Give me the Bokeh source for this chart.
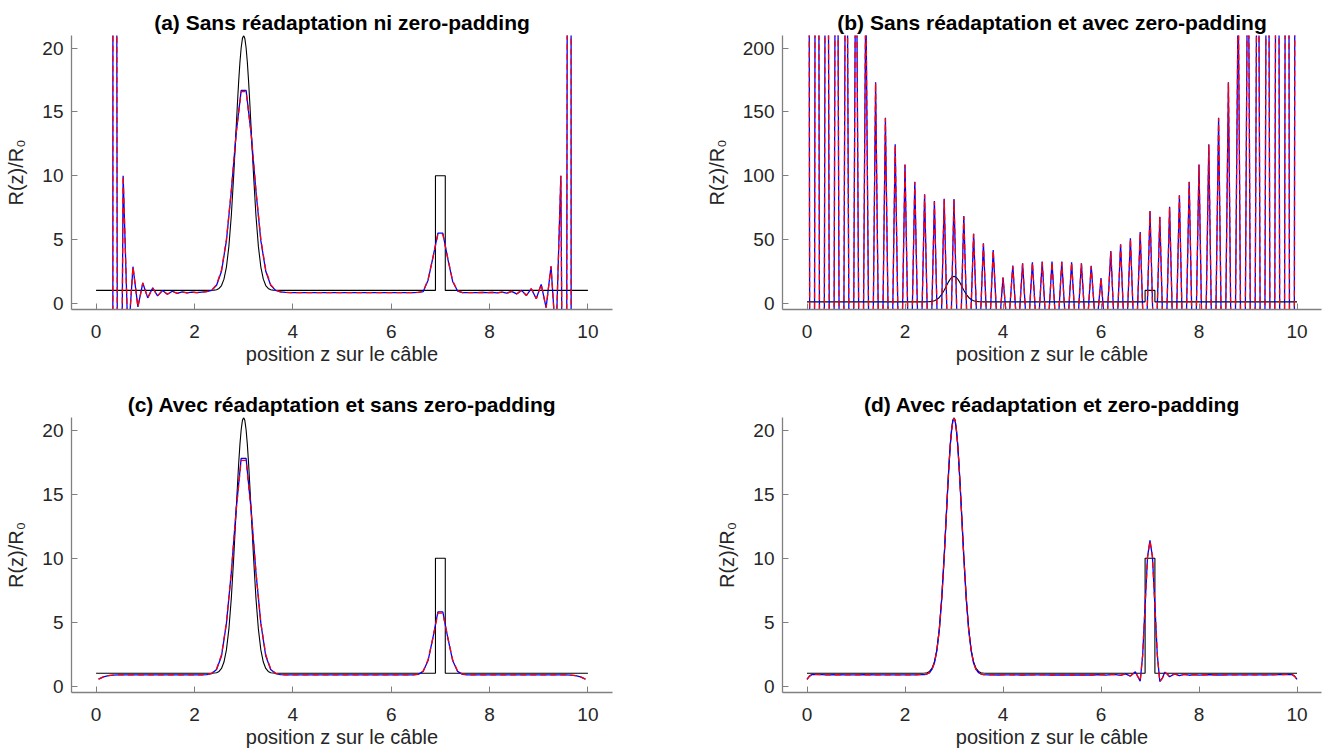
import numpy as np
from bokeh.plotting import figure
from bokeh.layouts import column, row
from bokeh.models import Range1d, FixedTicker
from bokeh.embed import file_html
from bokeh.resources import INLINE

# ---------------- data ----------------
titles = ["(a) Sans réadaptation ni zero-padding",
          "(b) Sans réadaptation et avec zero-padding",
          "(c) Avec réadaptation et sans zero-padding",
          "(d) Avec réadaptation et zero-padding"]
x_label = "position z sur le câble"
y_label = "R(z)/R\u2080"
x_ticks = [0, 2, 4, 6, 8, 10]
y_ticks_small = [0, 5, 10, 15, 20]
y_ticks_big = [0, 50, 100, 150, 200]

# true profile (black)
z_true = [0.0, 2.2, 2.3, 2.35, 2.4, 2.45, 2.5, 2.55, 2.6, 2.65, 2.7, 2.75, 2.8, 2.85, 2.875, 2.9,
          2.925, 2.95, 2.975, 3.0, 3.025, 3.05, 3.075, 3.1, 3.125, 3.15, 3.2, 3.25, 3.3, 3.35, 3.4,
          3.45, 3.5, 3.55, 3.6, 3.65, 3.7, 3.8, 6.9, 6.9, 7.1, 7.1, 10.0]
r_true = [1.0, 1.0, 1.0, 1.01, 1.02, 1.05, 1.15, 1.38, 1.88, 2.83, 4.45, 6.90, 10.16, 13.89, 15.74, 17.46,
          18.92, 20.04, 20.76, 21.0, 20.76, 20.04, 18.92, 17.46, 15.74, 13.89, 10.16, 6.90, 4.45, 2.83, 1.88,
          1.38, 1.15, 1.05, 1.02, 1.01, 1.0, 1.0, 1.0, 10.0, 10.0, 1.0, 1.0]

# (a) samples every 0.1 from 0.25 to 9.75
z_a = list(np.round(np.arange(0.25, 9.76, 0.1), 2))
blue_a = [-2000, 200, -50, 10.0, -3.0, 2.86, -0.30, 1.58, 0.41, 1.19,
          0.57, 0.99, 0.70, 0.93, 0.76, 0.88, 0.80, 0.86, 0.82, 0.86,
          0.90, 1.00, 1.40, 2.50, 4.90, 8.80, 13.40, 16.70, 16.70, 13.40,
          8.80, 4.90, 2.50, 1.40, 1.00, 0.88, 0.84, 0.83, 0.83, 0.82,
          0.83, 0.83, 0.82, 0.83, 0.82, 0.83, 0.83, 0.82, 0.83, 0.83,
          0.82, 0.83, 0.83, 0.82, 0.83, 0.82, 0.83, 0.83, 0.82, 0.83,
          0.83, 0.82, 0.83, 0.84, 0.90, 1.80, 3.60, 5.50, 5.50, 3.50,
          1.70, 0.95, 0.82, 0.82, 0.83, 0.82, 0.84, 0.82, 0.85, 0.80,
          0.87, 0.78, 0.92, 0.72, 1.00, 0.60, 1.13, 0.34, 1.47, -0.36,
          2.89, -3.0, 10.0, -50, 200, -2000]
red_a = [-2000, 200, -50, 10.0, -3.0, 2.86, -0.30, 1.58, 0.41, 1.19,
         0.57, 0.99, 0.70, 0.93, 0.76, 0.88, 0.80, 0.86, 0.82, 0.86,
         0.90, 1.02, 1.45, 2.60, 5.00, 8.90, 13.40, 16.60, 16.60, 13.40,
         8.90, 5.00, 2.60, 1.45, 1.02, 0.88, 0.84, 0.83, 0.83, 0.82,
         0.83, 0.83, 0.82, 0.83, 0.82, 0.83, 0.83, 0.82, 0.83, 0.83,
         0.82, 0.83, 0.83, 0.82, 0.83, 0.82, 0.83, 0.83, 0.82, 0.83,
         0.83, 0.82, 0.83, 0.84, 0.92, 1.85, 3.60, 5.40, 5.40, 3.55,
         1.75, 0.96, 0.82, 0.82, 0.83, 0.82, 0.84, 0.82, 0.85, 0.80,
         0.87, 0.78, 0.92, 0.72, 1.00, 0.60, 1.13, 0.34, 1.47, -0.36,
         2.89, -3.0, 10.0, -50, 200, -2000]

# (b) lobe peaks at 0.0, 0.2, ... 10.0 and troughs at 0.1, 0.3, ... 9.9
z_b_peak = list(np.round(np.arange(0.0, 10.01, 0.2), 2))
z_b_trough = list(np.round(np.arange(0.1, 9.91, 0.2), 2))
blue_b_peak = [1500, 1100, 800, 600, 450, 340, 250, 173.4, 145.5, 124.6,
               108.7, 95.2, 85.5, 80.1, 81.9, 81.6, 68.3, 54.5, 46.9, 41.7,
               20.1, 29.5, 31.3, 32.1, 32.6, 32.6, 32.6, 32.1, 31.3, 29.2,
               19.6, 40.9, 46.2, 50.8, 55.8, 72.2, 67.8, 75.6, 84.7, 95.2,
               108.7, 124.6, 145.5, 173.4, 250, 340, 450, 600, 800, 1100, 1500]
red_b_peak = [1500, 1100, 800, 600, 450, 340, 250, 173.0, 145.0, 124.0,
              108.5, 95.0, 85.0, 79.5, 81.5, 81.0, 68.0, 54.5, 46.5, 41.5,
              20.0, 29.0, 31.0, 32.0, 32.3, 32.3, 32.3, 32.0, 31.0, 29.0,
              19.5, 40.5, 46.0, 50.5, 55.5, 72.0, 67.5, 75.0, 84.5, 95.0,
              108.5, 124.0, 145.0, 173.0, 250, 340, 450, 600, 800, 1100, 1500]
b_trough = [-1300, -950, -700, -520, -400, -300, -210, -160, -135, -117,
            -102, -90, -83, -81, -82, -75, -61, -51, -44, -31,
            -25, -30, -32, -32, -33, -33, -32, -32, -30, -24,
            -30, -44, -48, -53, -64, -70, -72, -80, -90, -102,
            -117, -135, -160, -210, -300, -400, -520, -700, -950, -1300]

# (c) samples every 0.1 from 0.05 to 9.95
z_c = list(np.round(np.arange(0.05, 9.96, 0.1), 2))
blue_c = [0.55, 0.72, 0.82, 0.86, 0.88, 0.88, 0.88, 0.88, 0.88, 0.88,
          0.88, 0.88, 0.88, 0.88, 0.88, 0.88, 0.88, 0.88, 0.88, 0.88,
          0.88, 0.88, 0.90, 0.98, 1.30, 2.35, 4.90, 8.90, 13.90, 17.80,
          17.80, 13.90, 8.90, 4.90, 2.35, 1.30, 0.98, 0.90, 0.88, 0.88,
          0.88, 0.88, 0.88, 0.88, 0.88, 0.88, 0.88, 0.88, 0.88, 0.88,
          0.88, 0.88, 0.88, 0.88, 0.88, 0.88, 0.88, 0.88, 0.88, 0.88,
          0.88, 0.88, 0.88, 0.88, 0.88, 0.92, 1.15, 2.00, 3.80, 5.80,
          5.80, 3.80, 2.00, 1.15, 0.92, 0.88, 0.88, 0.88, 0.88, 0.88,
          0.88, 0.88, 0.88, 0.88, 0.88, 0.88, 0.88, 0.88, 0.88, 0.88,
          0.88, 0.88, 0.88, 0.88, 0.88, 0.88, 0.86, 0.82, 0.72, 0.55]
red_c = [0.55, 0.72, 0.82, 0.86, 0.88, 0.88, 0.88, 0.88, 0.88, 0.88,
         0.88, 0.88, 0.88, 0.88, 0.88, 0.88, 0.88, 0.88, 0.88, 0.88,
         0.88, 0.88, 0.91, 1.00, 1.35, 2.45, 4.95, 8.95, 13.80, 17.65,
         17.65, 13.80, 8.95, 4.95, 2.45, 1.35, 1.00, 0.91, 0.88, 0.88,
         0.88, 0.88, 0.88, 0.88, 0.88, 0.88, 0.88, 0.88, 0.88, 0.88,
         0.88, 0.88, 0.88, 0.88, 0.88, 0.88, 0.88, 0.88, 0.88, 0.88,
         0.88, 0.88, 0.88, 0.88, 0.88, 0.93, 1.18, 2.05, 3.80, 5.70,
         5.70, 3.80, 2.05, 1.18, 0.93, 0.88, 0.88, 0.88, 0.88, 0.88,
         0.88, 0.88, 0.88, 0.88, 0.88, 0.88, 0.88, 0.88, 0.88, 0.88,
         0.88, 0.88, 0.88, 0.88, 0.88, 0.88, 0.86, 0.82, 0.72, 0.55]

# (d) fine sampling
z_d = [0.0, 0.05, 0.1, 0.2, 0.4, 0.6, 0.8, 1.0, 1.2, 1.4, 1.6, 1.8, 2.0, 2.1, 2.2, 2.3, 2.4,
       2.45, 2.5, 2.55, 2.6, 2.65, 2.7, 2.75, 2.8, 2.85, 2.875, 2.9, 2.925, 2.95, 2.975, 3.0,
       3.025, 3.05, 3.075, 3.1, 3.125, 3.15, 3.2, 3.25, 3.3, 3.35, 3.4, 3.45, 3.5, 3.55, 3.6,
       3.7, 3.8, 3.9, 4.0, 4.2, 4.4, 4.6, 4.8, 5.0, 5.2, 5.4, 5.6, 5.8, 6.0, 6.1, 6.2, 6.3,
       6.4, 6.5, 6.6, 6.7, 6.75, 6.8, 6.85, 6.9, 6.95, 7.0, 7.05, 7.1, 7.15, 7.2, 7.25, 7.3,
       7.35, 7.4, 7.5, 7.6, 7.7, 7.8, 7.9, 8.0, 8.2, 8.4, 8.6, 8.8, 9.0, 9.2, 9.4, 9.6, 9.8,
       9.9, 9.95, 10.0]
blue_d = [0.52, 0.78, 0.90, 0.92, 0.88, 0.89, 0.88, 0.88, 0.89, 0.88, 0.88, 0.88, 0.88, 0.88, 0.88, 0.90, 0.90,
          0.95, 1.05, 1.30, 1.80, 2.78, 4.40, 6.85, 10.10, 13.85, 15.70, 17.40, 18.90, 19.95, 20.70, 20.95,
          20.70, 19.95, 18.90, 17.40, 15.70, 13.85, 10.10, 6.85, 4.40, 2.78, 1.80, 1.30, 1.05, 0.95, 0.90,
          0.88, 0.88, 0.87, 0.88, 0.88, 0.87, 0.88, 0.88, 0.87, 0.88, 0.87, 0.88, 0.87, 0.89, 0.86, 0.90, 0.90,
          0.84, 0.95, 0.78, 1.12, 0.75, 0.39, 2.40, 6.30, 10.10, 11.40, 10.10, 6.30, 2.40, 0.36, 0.60, 1.09,
          0.95, 0.73, 0.96, 0.82, 0.92, 0.85, 0.90, 0.86, 0.89, 0.87, 0.88, 0.88, 0.88, 0.88, 0.88, 0.89, 0.92,
          0.90, 0.78, 0.52]
red_d = [0.52, 0.78, 0.90, 0.92, 0.88, 0.89, 0.88, 0.88, 0.89, 0.88, 0.88, 0.88, 0.88, 0.88, 0.88, 0.90, 0.90,
         0.95, 1.05, 1.30, 1.80, 2.78, 4.40, 6.85, 10.10, 13.85, 15.70, 17.40, 18.90, 19.95, 20.70, 20.95,
         20.70, 19.95, 18.90, 17.40, 15.70, 13.85, 10.10, 6.85, 4.40, 2.78, 1.80, 1.30, 1.05, 0.95, 0.90,
         0.88, 0.88, 0.87, 0.88, 0.88, 0.87, 0.88, 0.88, 0.87, 0.88, 0.87, 0.88, 0.87, 0.89, 0.87, 0.89, 0.90,
         0.85, 0.94, 0.79, 1.10, 0.76, 0.40, 2.40, 6.30, 10.10, 11.35, 10.10, 6.30, 2.40, 0.37, 0.60, 1.08,
         0.95, 0.74, 0.96, 0.83, 0.92, 0.85, 0.90, 0.86, 0.89, 0.87, 0.88, 0.88, 0.88, 0.88, 0.88, 0.89, 0.92,
         0.90, 0.78, 0.52]


def interleave(peaks, troughs, zp, zt):
    zz, vv = [], []
    for i in range(len(troughs)):
        zz += [zp[i], zt[i]]
        vv += [peaks[i], troughs[i]]
    zz.append(zp[-1])
    vv.append(peaks[-1])
    return zz, vv


# ---------------- styling ----------------
FONT = "Liberation Sans"
AX_COL = "#808080"
TXT_COL = "#262626"


def make_fig(title, yr, yticks, w, h, mbl, mbr, mbt, mbb):
    p = figure(width=w, height=h, output_backend="svg", toolbar_location=None,
               x_range=Range1d(-0.5, 10.5), y_range=Range1d(*yr),
               min_border_left=mbl, min_border_right=mbr, min_border_top=mbt,
               min_border_bottom=mbb)
    p.title.text = title
    p.title.text_font = FONT
    p.title.text_font_size = "21px"
    p.title.text_font_style = "bold"
    p.title.text_color = "#000000"
    p.title.align = "center"
    p.title.standoff = 3
    p.outline_line_color = None
    p.grid.visible = False
    p.background_fill_color = "white"
    p.border_fill_color = "white"
    p.xaxis.ticker = FixedTicker(ticks=x_ticks)
    p.yaxis.ticker = FixedTicker(ticks=yticks)
    p.xaxis.axis_label = x_label
    p.yaxis.axis_label = y_label
    for ax in (p.xaxis[0], p.yaxis[0]):
        ax.axis_line_color = AX_COL
        ax.axis_line_width = 1.3
        ax.major_tick_line_color = AX_COL
        ax.major_tick_in = 6
        ax.major_tick_out = 0
        ax.minor_tick_line_color = None
        ax.major_label_text_font = FONT
        ax.major_label_text_font_size = "19px"
        ax.major_label_text_color = TXT_COL
        ax.axis_label_text_font = FONT
        ax.axis_label_text_font_size = "20px"
        ax.axis_label_text_font_style = "normal"
        ax.axis_label_text_color = TXT_COL
    p.xaxis.major_label_standoff = 15
    p.xaxis.axis_label_standoff = 2
    p.yaxis.major_label_standoff = 8
    p.yaxis.axis_label_standoff = 12
    return p


def draw(p, zb, yb, zr, yr_):
    p.line(z_true, r_true, line_color="black", line_width=1.1)
    p.line(zb, yb, line_color="#0000ff", line_width=1.3)
    p.line(zr, yr_, line_color="#ff0000", line_width=1.3, line_dash="6 4")


W_L, W_R = 632, 694
H_T, H_B = 382, 371

pa = make_fig(titles[0], (-0.5, 21), y_ticks_small, W_L, H_T, 71, 20, 35, 73)
draw(pa, z_a, blue_a, z_a, red_a)

pb = make_fig(titles[1], (-5, 210), y_ticks_big, W_R, H_T, 150, 5, 35, 73)
zb1, vb1 = interleave(blue_b_peak, b_trough, z_b_peak, z_b_trough)
zb2, vb2 = interleave(red_b_peak, b_trough, z_b_peak, z_b_trough)
draw(pb, zb1, vb1, zb2, vb2)

pc = make_fig(titles[2], (-0.5, 21), y_ticks_small, W_L, H_B, 71, 20, 35, 61)
draw(pc, z_c, blue_c, z_c, red_c)

pd = make_fig(titles[3], (-0.5, 21), y_ticks_small, W_R, H_B, 150, 5, 35, 61)
draw(pd, z_d, blue_d, z_d, red_d)

layout = column(row(pa, pb), row(pc, pd))
open("out.html", "w").write(file_html(layout, INLINE))
